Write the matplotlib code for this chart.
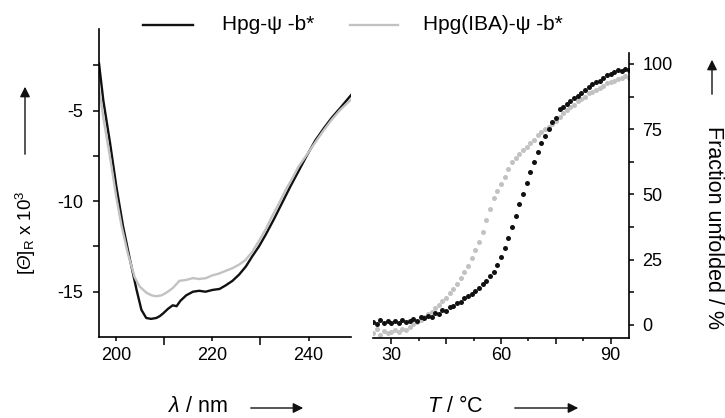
import matplotlib
matplotlib.use("Agg")
import matplotlib.pyplot as plt
from matplotlib.lines import Line2D
from matplotlib.patches import FancyArrowPatch

plt.rcParams["font.family"] = ["Liberation Sans", "DejaVu Sans"]
plt.rcParams["mathtext.fontset"] = "custom"
plt.rcParams["mathtext.rm"] = "Liberation Sans"
plt.rcParams["mathtext.it"] = "Liberation Sans:italic"
plt.rcParams["mathtext.cal"] = "Liberation Sans:italic"  # used for the slanted Theta

# CD spectra (wavelength in nm, mean residue ellipticity x 10^3)
wl_black = [196.5, 197.4, 198.8, 200.1, 201.5, 202.9, 204.3, 205.3, 206.3, 207.3, 208.4,
            209.1, 209.8, 210.8, 211.8, 212.6, 213.4, 214.6, 216.0, 217.3, 218.6, 220.1,
            221.5, 222.8, 224.2, 225.6, 227.0, 228.3, 229.7, 231.1, 232.8, 234.5, 236.2,
            238.0, 239.7, 241.4, 243.1, 244.8, 246.6, 248.8]
cd_black = [-2.4, -4.45, -6.8, -9.2, -11.4, -13.2, -14.9, -16.0, -16.45, -16.5, -16.45,
            -16.35, -16.2, -15.95, -15.75, -15.8, -15.5, -15.2, -15.0, -14.95, -15.0, -14.9,
            -14.85, -14.65, -14.4, -14.05, -13.6, -13.05, -12.5, -11.85, -11.0, -10.1, -9.2,
            -8.3, -7.45, -6.65, -6.0, -5.4, -4.85, -4.15]

wl_gray = [196.5, 197.4, 198.8, 200.1, 201.2, 202.5, 203.9, 204.9, 206.3, 207.4, 208.4,
           209.5, 210.5, 211.8, 213.2, 214.6, 216.0, 217.3, 218.7, 220.0, 221.4, 222.8,
           224.2, 225.6, 226.9, 228.3, 229.7, 231.1, 232.4, 233.8, 235.2, 236.6, 237.9,
           239.6, 241.4, 243.1, 244.8, 246.6, 248.8]
cd_gray = [-3.8, -5.4, -7.6, -9.8, -11.4, -12.9, -14.2, -14.7, -15.05, -15.2, -15.25,
           -15.2, -15.05, -14.8, -14.4, -14.35, -14.25, -14.3, -14.25, -14.1, -14.0, -13.85,
           -13.7, -13.5, -13.25, -12.8, -12.2, -11.55, -10.85, -10.15, -9.4, -8.75, -8.1,
           -7.45, -6.75, -6.1, -5.5, -4.95, -4.4]

# thermal unfolding (temperature in degC, fraction unfolded in %)
temp = [25, 26, 27, 28, 29, 30, 31, 32, 33, 34, 35, 36, 37, 38, 39, 40, 41, 42, 43, 44,
        45, 46, 47, 48, 49, 50, 51, 52, 53, 54, 55, 56, 57, 58, 59, 60, 61, 62, 63, 64,
        65, 66, 67, 68, 69, 70, 71, 72, 73, 74, 75, 76, 77, 78, 79, 80, 81, 82, 83, 84,
        85, 86, 87, 88, 89, 90, 91, 92, 93, 94, 95]
unf_black = [1.3, 0.5, 1.8, 0.9, 1.5, 0.6, 1.4, 0.8, 1.9, 1.0, 1.6, 2.2, 1.7, 2.9, 2.5,
             3.6, 3.1, 4.5, 4.2, 5.8, 5.3, 6.9, 7.2, 8.5, 8.9, 10.2, 11.0, 11.8, 13.1, 14.2,
             15.6, 16.8, 18.6, 20.4, 23.1, 26.0, 29.5, 33.4, 37.6, 41.9, 46.3, 50.2, 54.4,
             58.5, 62.4, 66.1, 69.6, 72.4, 75.1, 77.6, 79.3, 82.6, 83.4, 84.6, 85.8, 87.0,
             87.6, 88.9, 90.1, 91.0, 92.2, 93.1, 93.6, 94.8, 95.7, 96.2, 96.9, 97.8, 97.2,
             98.1, 97.6]
unf_gray = [-3.2, -1.5, -3.8, -2.2, -3.0, -2.6, -1.9, -2.8, -1.4, -1.8, -0.9, 0.2, 1.0,
            1.9, 3.1, 4.2, 5.0, 6.5, 7.6, 9.3, 10.4, 12.2, 13.8, 15.6, 17.9, 20.4, 22.6,
            25.5, 28.8, 31.9, 35.6, 40.2, 44.3, 48.6, 51.5, 54.0, 56.7, 59.6, 62.3, 64.0,
            65.6, 67.1, 68.3, 69.8, 71.0, 72.6, 73.9, 75.0, 75.8, 77.1, 78.3, 79.6, 81.2,
            82.4, 83.5, 84.3, 85.9, 86.6, 87.5, 88.7, 89.3, 90.0, 90.8, 91.4, 92.6, 92.9,
            93.5, 94.3, 94.6, 95.2, 94.8]

labels = ["Hpg-\u03c8 -b*", "Hpg(IBA)-\u03c8 -b*"]

W, H = 725, 418
fig = plt.figure(figsize=(W / 100, H / 100), dpi=100)
fig.patch.set_facecolor("white")

BLACK = "#111111"
GRAY = "#c2c2c2"
TICK = 13
LAB = 15.5


def fx(px):
    return px / W


def fy(py):
    return 1 - py / H


# left panel: CD spectra
ax1 = fig.add_axes([fx(99), fy(337), 252 / W, 308 / H])
l1, = ax1.plot(wl_black, cd_black, color=BLACK, lw=1.7)
l2, = ax1.plot(wl_gray, cd_gray, color=GRAY, lw=1.7)
ax1.set_xlim(196.5, 248.8)
ax1.set_ylim(-17.5, -0.5)
ax1.set_xticks([200, 220, 240])
ax1.set_xticks([210, 230], minor=True)
ax1.set_yticks([-5, -10, -15])
ax1.set_yticklabels(["-5", "-10", "-15"])
ax1.set_yticks([-2.5, -7.5, -12.5], minor=True)
ax1.spines[["top", "right"]].set_visible(False)
ax1.tick_params(axis="x", which="major", length=3, width=1.1, labelsize=TICK, pad=4.5)
ax1.tick_params(axis="x", which="minor", length=5.5, width=1.1)
ax1.tick_params(axis="y", which="both", length=4.5, width=1.1, labelsize=TICK, pad=7)
for s in ax1.spines.values():
    s.set_linewidth(1.2)

# right panel: thermal unfolding
ax2 = fig.add_axes([fx(373), fy(338), 256 / W, 285 / H])
ax2.plot(temp, unf_gray, "o", color=GRAY, ms=3.6, mew=0)
ax2.plot(temp, unf_black, "o", color=BLACK, ms=3.6, mew=0)
ax2.set_xlim(25, 95)
ax2.set_ylim(-5, 104.2)
ax2.set_xticks([30, 45, 60, 75, 90])
ax2.set_xticklabels(["30", "", "60", "", "90"])
ax2.set_xticks([37.5, 52.5, 67.5, 82.5], minor=True)
ax2.set_yticks([0, 25, 50, 75, 100])
ax2.set_yticks([12.5, 37.5, 62.5, 87.5], minor=True)
ax2.yaxis.tick_right()
ax2.spines[["top", "left"]].set_visible(False)
ax2.tick_params(axis="x", which="major", length=4.5, width=1.1, labelsize=TICK, pad=2)
ax2.tick_params(axis="x", which="minor", length=2.5, width=1.1)
ax2.tick_params(axis="y", which="both", length=3.5, width=1.1, labelsize=TICK, pad=6)
for s in ax2.spines.values():
    s.set_linewidth(1.2)

# legend across the top
leg_y = fy(25)
for line, label, x0, x1, xt in [(l1, labels[0], 143, 193, 222),
                                (l2, labels[1], 350, 398, 423)]:
    fig.add_artist(Line2D([fx(x0), fx(x1)], [leg_y, leg_y], color=line.get_color(),
                          lw=line.get_linewidth(), transform=fig.transFigure))
    fig.text(fx(xt), leg_y, label, ha="left", va="center", fontsize=15)

# axis titles with arrows
arrow = dict(arrowstyle="-|>", color=BLACK, lw=1.0, mutation_scale=15,
             transform=fig.transFigure)
fig.text(fx(26), fy(233), r"$[\mathcal{\Theta}]_{\mathrm{R}}$ x 10$^{3}$",
         rotation=90, ha="center", va="center", fontsize=13.5)
fig.add_artist(FancyArrowPatch((fx(25), fy(157)), (fx(25), fy(84)), **arrow))

fig.text(fx(714), fy(228), "Fraction unfolded / %", rotation=-90,
         ha="center", va="center", fontsize=LAB)
fig.add_artist(FancyArrowPatch((fx(712), fy(97)), (fx(712), fy(57)), **arrow))

fig.text(fx(198), fy(406), r"$\mathit{\lambda}$ / nm", ha="center",
         va="center", fontsize=LAB)
fig.add_artist(FancyArrowPatch((fx(248), fy(408)), (fx(306), fy(408)), **arrow))

fig.text(fx(455), fy(406), r"$\mathit{T}$ / " + "\u00b0C", ha="center",
         va="center", fontsize=LAB)
fig.add_artist(FancyArrowPatch((fx(512), fy(408)), (fx(581), fy(408)), **arrow))

fig.savefig("out.png", dpi=100, facecolor="white")
